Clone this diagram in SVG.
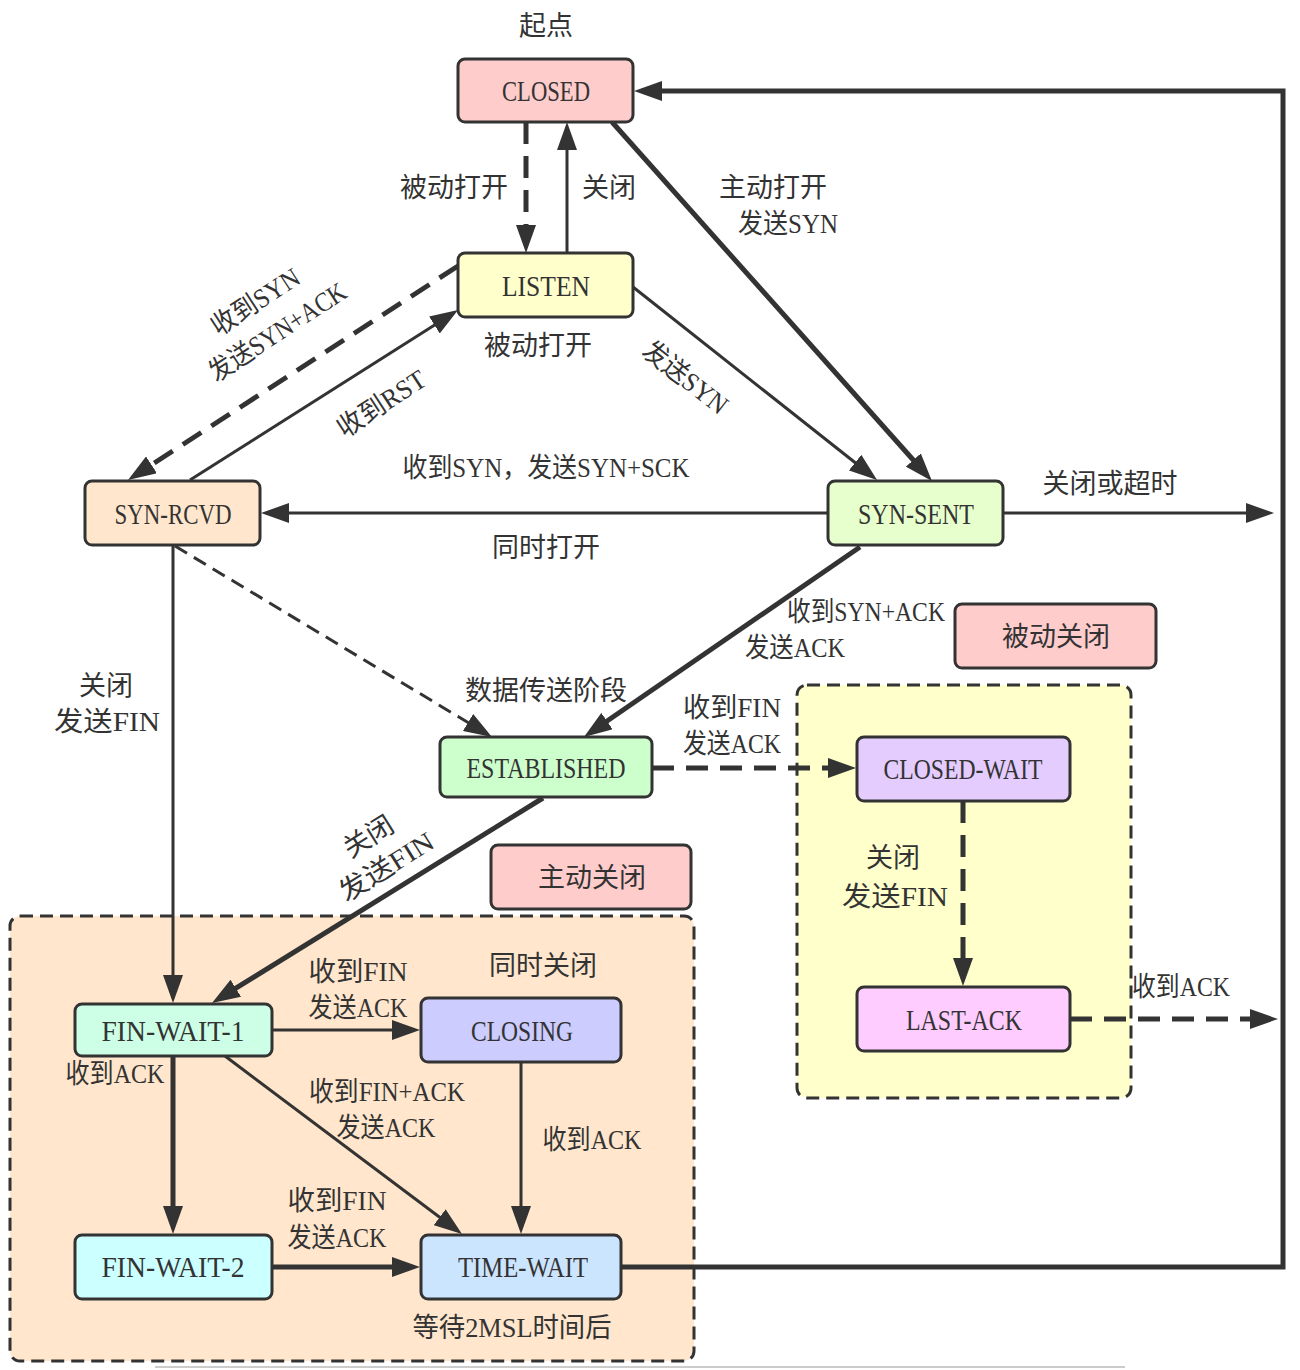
<svg xmlns="http://www.w3.org/2000/svg" width="1300" height="1370" viewBox="0 0 1300 1370">
<defs>
<style>
.box{stroke:#333;stroke-width:3}
.grp{stroke:#333;stroke-width:3;stroke-dasharray:13 7}
.n{font-family:"Liberation Serif","Noto Sans CJK SC",serif;font-size:30px;fill:#333;text-anchor:middle}
.l{font-family:"Liberation Serif","Noto Sans CJK SC",serif;font-size:27px;fill:#333;text-anchor:middle}
.e{fill:none;stroke:#333;marker-end:url(#arr)}
.t3{stroke-width:3}
.t5{stroke-width:5}
.d{stroke-dasharray:22 12}
.dt{stroke-dasharray:14 8}
</style>
<marker id="arr" viewBox="0 0 28 20" markerUnits="userSpaceOnUse" markerWidth="28" markerHeight="20" refX="18" refY="10" orient="auto">
<path d="M0,0 L28,10 L0,20 z" fill="#333"/>
</marker>
</defs>
<rect width="1300" height="1370" fill="#fff"/>
<line x1="155" y1="1367" x2="1125" y2="1367" stroke="#ccc" stroke-width="2"/>

<g id="group-active-close">
<rect class="grp" x="10" y="916" width="684" height="445" rx="10" fill="#ffe6cc"/>
</g>
<g id="group-passive-close">
<rect class="grp" x="797" y="685" width="334" height="413" rx="10" fill="#ffffcc"/>
</g>

<g id="connectors">
<line class="e t5 d" x1="526" y1="122" x2="526" y2="243"/>
<line class="e t3" x1="567" y1="253" x2="567" y2="132"/>
<line class="e t5" x1="612" y1="122" x2="925.3" y2="473.5"/>
<line class="e t3" x1="633" y1="287" x2="869.2" y2="473.8"/>
<line class="e t5 d" x1="458" y1="266" x2="136.4" y2="474.6"/>
<line class="e t3" x1="190" y1="480" x2="449.6" y2="315.4"/>
<line class="e t3" x1="828" y1="513" x2="271" y2="513"/>
<line class="e t3" x1="1003" y1="513" x2="1264" y2="513"/>
<line class="e t5" x1="860" y1="547" x2="592.2" y2="731.3"/>
<line class="e t3 dt" x1="175" y1="546" x2="483.4" y2="731.8"/>
<line class="e t3" x1="173" y1="545" x2="173" y2="993"/>
<line class="e t5 d" x1="652" y1="768" x2="846" y2="768"/>
<line class="e t5" x1="543" y1="798" x2="220.5" y2="997.7"/>
<line class="e t5 d" x1="963" y1="801" x2="963" y2="976"/>
<line class="e t5 d" x1="1070" y1="1019" x2="1268" y2="1019"/>
<line class="e t3" x1="272" y1="1030" x2="410" y2="1030"/>
<line class="e t5" x1="173" y1="1056" x2="173" y2="1224"/>
<line class="e t3" x1="225" y1="1056" x2="454" y2="1228"/>
<line class="e t3" x1="521" y1="1062" x2="521" y2="1224"/>
<line class="e t5" x1="272" y1="1267" x2="410" y2="1267"/>
<polyline class="e t5" points="621,1267 1283,1267 1283,91 644,91"/>
</g>

<g id="node-closed">
<rect class="box" x="458" y="59" width="175" height="63" rx="7" fill="#ffcccc"/>
<text class="n" x="546" y="101" textLength="88" lengthAdjust="spacingAndGlyphs">CLOSED</text>
</g>
<g id="node-listen">
<rect class="box" x="458" y="253" width="175" height="64" rx="7" fill="#ffffcc"/>
<text class="n" x="546" y="296" textLength="88" lengthAdjust="spacingAndGlyphs">LISTEN</text>
</g>
<g id="node-syn-rcvd">
<rect class="box" x="85" y="481" width="175" height="64" rx="7" fill="#ffe6cc"/>
<text class="n" x="173" y="524" textLength="117" lengthAdjust="spacingAndGlyphs">SYN-RCVD</text>
</g>
<g id="node-syn-sent">
<rect class="box" x="828" y="481" width="175" height="64" rx="7" fill="#e6ffcc"/>
<text class="n" x="916" y="524" textLength="116" lengthAdjust="spacingAndGlyphs">SYN-SENT</text>
</g>
<g id="node-established">
<rect class="box" x="440" y="737" width="212" height="60" rx="7" fill="#ccffcc"/>
<text class="n" x="546" y="778" textLength="159" lengthAdjust="spacingAndGlyphs">ESTABLISHED</text>
</g>
<g id="node-closed-wait">
<rect class="box" x="857" y="737" width="213" height="64" rx="7" fill="#e5ccff"/>
<text class="n" x="963" y="779" textLength="159" lengthAdjust="spacingAndGlyphs">CLOSED-WAIT</text>
</g>
<g id="node-last-ack">
<rect class="box" x="857" y="987" width="213" height="64" rx="7" fill="#ffccff"/>
<text class="n" x="964" y="1030" textLength="116" lengthAdjust="spacingAndGlyphs">LAST-ACK</text>
</g>
<g id="node-fin-wait-1">
<rect class="box" x="75" y="1004" width="197" height="52" rx="7" fill="#ccffe6"/>
<text class="n" x="173" y="1041" textLength="143" lengthAdjust="spacingAndGlyphs">FIN-WAIT-1</text>
</g>
<g id="node-closing">
<rect class="box" x="421" y="998" width="200" height="64" rx="7" fill="#ccccff"/>
<text class="n" x="522" y="1041" textLength="102" lengthAdjust="spacingAndGlyphs">CLOSING</text>
</g>
<g id="node-fin-wait-2">
<rect class="box" x="75" y="1235" width="197" height="64" rx="7" fill="#ccffff"/>
<text class="n" x="173" y="1277" textLength="143" lengthAdjust="spacingAndGlyphs">FIN-WAIT-2</text>
</g>
<g id="node-time-wait">
<rect class="box" x="421" y="1235" width="200" height="64" rx="7" fill="#cce5ff"/>
<text class="n" x="523" y="1277" textLength="130" lengthAdjust="spacingAndGlyphs">TIME-WAIT</text>
</g>
<g id="label-passive-close">
<rect class="box" x="955" y="604" width="201" height="64" rx="7" fill="#ffcccc"/>
<text class="l" x="1056" y="646">被动关闭</text>
</g>
<g id="label-active-close">
<rect class="box" x="491" y="845" width="200" height="64" rx="7" fill="#ffcccc"/>
<text class="l" x="592" y="887">主动关闭</text>
</g>

<g id="edge-labels">
<text class="l" x="546" y="35">起点</text>
<text class="l" x="454" y="197">被动打开</text>
<text class="l" x="609" y="197">关闭</text>
<text class="l" x="773" y="197">主动打开</text>
<text class="l" x="788" y="233" textLength="100" lengthAdjust="spacingAndGlyphs">发送SYN</text>
<text class="l" x="538" y="355">被动打开</text>
<g transform="translate(255,301) rotate(-33)"><text class="l" x="0" y="10" textLength="100" lengthAdjust="spacingAndGlyphs">收到SYN</text></g>
<g transform="translate(277,331) rotate(-33)"><text class="l" x="0" y="10" textLength="158" lengthAdjust="spacingAndGlyphs">发送SYN+ACK</text></g>
<g transform="translate(381,403) rotate(-33)"><text class="l" x="0" y="10" textLength="100" lengthAdjust="spacingAndGlyphs">收到RST</text></g>
<g transform="translate(686,377) rotate(38)"><text class="l" x="0" y="10" textLength="100" lengthAdjust="spacingAndGlyphs">发送SYN</text></g>
<text class="l" x="546" y="477" textLength="287" lengthAdjust="spacingAndGlyphs">收到SYN，发送SYN+SCK</text>
<text class="l" x="546" y="557">同时打开</text>
<text class="l" x="1110" y="493">关闭或超时</text>
<text class="l" x="866" y="621" textLength="158" lengthAdjust="spacingAndGlyphs">收到SYN+ACK</text>
<text class="l" x="795" y="657" textLength="100" lengthAdjust="spacingAndGlyphs">发送ACK</text>
<text class="l" x="546" y="700">数据传送阶段</text>
<text class="l" x="732" y="717" textLength="98" lengthAdjust="spacingAndGlyphs">收到FIN</text>
<text class="l" x="732" y="753" textLength="98" lengthAdjust="spacingAndGlyphs">发送ACK</text>
<text class="l" x="106" y="695">关闭</text>
<text class="l" x="107" y="731" textLength="106" lengthAdjust="spacingAndGlyphs">发送FIN</text>
<g transform="translate(368,836) rotate(-32)"><text class="l" x="0" y="10">关闭</text></g>
<g transform="translate(386,866) rotate(-32)"><text class="l" x="0" y="10" textLength="106" lengthAdjust="spacingAndGlyphs">发送FIN</text></g>
<text class="l" x="893" y="867">关闭</text>
<text class="l" x="895" y="906" textLength="106" lengthAdjust="spacingAndGlyphs">发送FIN</text>
<text class="l" x="543" y="975">同时关闭</text>
<text class="l" x="358" y="981" textLength="99" lengthAdjust="spacingAndGlyphs">收到FIN</text>
<text class="l" x="358" y="1017" textLength="99" lengthAdjust="spacingAndGlyphs">发送ACK</text>
<text class="l" x="1181" y="996" textLength="98" lengthAdjust="spacingAndGlyphs">收到ACK</text>
<text class="l" x="115" y="1083" textLength="99" lengthAdjust="spacingAndGlyphs">收到ACK</text>
<text class="l" x="387" y="1101" textLength="156" lengthAdjust="spacingAndGlyphs">收到FIN+ACK</text>
<text class="l" x="386" y="1137" textLength="99" lengthAdjust="spacingAndGlyphs">发送ACK</text>
<text class="l" x="592" y="1149" textLength="99" lengthAdjust="spacingAndGlyphs">收到ACK</text>
<text class="l" x="337" y="1210" textLength="99" lengthAdjust="spacingAndGlyphs">收到FIN</text>
<text class="l" x="337" y="1247" textLength="99" lengthAdjust="spacingAndGlyphs">发送ACK</text>
<text class="l" x="512" y="1337" textLength="199" lengthAdjust="spacingAndGlyphs">等待2MSL时间后</text>
</g>
</svg>
